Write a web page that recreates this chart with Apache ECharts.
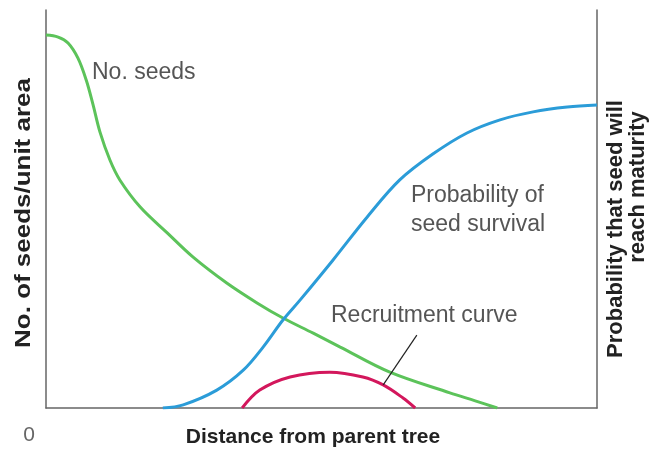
<!DOCTYPE html>
<html>
<head>
<meta charset="utf-8">
<script src="https://cdn.jsdelivr.net/npm/echarts@6/dist/echarts.min.js"></script>
<style>
  html, body { margin: 0; padding: 0; background: #fff; }
  #chart { width: 655px; height: 449px; }
</style>
</head>
<body>
<div id="chart"></div>
<script>
// distance (0-100) vs relative level (0-100)
const seedsCurve = [
  [0, 93.7], [2.2, 93.2], [4.0, 91.7], [5.8, 87.9], [7.3, 82.4], [8.5, 76.4],
  [9.8, 69.3], [11.6, 62.3], [13.4, 57.3], [17.1, 50.5], [22.0, 44.0],
  [26.7, 37.9], [32.8, 31.4], [38.3, 26.4], [43.0, 22.6], [48.5, 18.8],
  [53.4, 15.3], [62.4, 9.0], [73.3, 3.8], [77.9, 1.8], [81.9, 0]
]
const survivalCurve = [
  [21.2, 0], [24.9, 0.8], [31.0, 4.5], [35.8, 9.5], [39.4, 15.3], [43.0, 22.1],
  [46.1, 27.1], [52.1, 37.2], [58.3, 48.0], [64.2, 57.3], [70.2, 63.8],
  [76.4, 69.1], [82.4, 72.4], [88.4, 74.4], [94.6, 75.6], [100, 76.1]
]
const recruitCurve = [
  [35.6, 0], [38.8, 4.5], [44.3, 7.8], [51.5, 9.0], [57.5, 7.8],
  [61.2, 5.8], [64.8, 2.5], [67.0, 0]
]
const pointerLine = [[61.2, 5.8], [67.3, 18.3]]

const chart = echarts.init(document.getElementById('chart'))

const labelFont = 'Liberation Sans, Arial, Helvetica, sans-serif'
const axisColor = '#666'

const hiddenAxis = {
  type: 'value',
  min: 0,
  max: 100,
  axisLine: { show: true, lineStyle: { color: axisColor, width: 1.5 } },
  axisTick: { show: false },
  axisLabel: { show: false },
  splitLine: { show: false }
}

const curve = (name, data, color, yAxisIndex) => ({
  name: name,
  type: 'line',
  yAxisIndex: yAxisIndex || 0,
  data: data,
  smooth: 0.35,
  showSymbol: false,
  lineStyle: { color: color, width: 3 }
})

const option = {
  animation: false,
  grid: { left: 46, right: 58, top: 10, bottom: 41 },
  xAxis: hiddenAxis,
  yAxis: [
    hiddenAxis,
    Object.assign({}, hiddenAxis, { position: 'right' })
  ],
  series: [
    curve('No. seeds', seedsCurve, '#5cc35a'),
    curve('Probability of seed survival', survivalCurve, '#2b9cd8', 1),
    curve('Recruitment curve', recruitCurve, '#d3175c'),
    {
      name: 'pointer',
      type: 'line',
      data: pointerLine,
      showSymbol: false,
      lineStyle: { color: '#222', width: 1.2 }
    }
  ],
  graphic: [
    { type: 'text', x: 92, y: 73, style: { text: 'No. seeds', font: '23px ' + labelFont, fill: '#555', verticalAlign: 'middle' } },
    { type: 'text', x: 411, y: 196, style: { text: 'Probability of', font: '23px ' + labelFont, fill: '#555', verticalAlign: 'middle' } },
    { type: 'text', x: 411, y: 225, style: { text: 'seed survival', font: '23px ' + labelFont, fill: '#555', verticalAlign: 'middle' } },
    { type: 'text', x: 331, y: 316, style: { text: 'Recruitment curve', font: '23px ' + labelFont, fill: '#555', verticalAlign: 'middle' } },
    { type: 'text', x: 29, y: 435, style: { text: '0', font: '21px ' + labelFont, fill: '#666', align: 'center', verticalAlign: 'middle' } },
    { type: 'text', x: 313, y: 437, style: { text: 'Distance from parent tree', font: 'bold 21px ' + labelFont, fill: '#222', align: 'center', verticalAlign: 'middle' } },
    { type: 'text', x: 24, y: 213, rotation: Math.PI / 2, scaleX: 1.18, style: { text: 'No. of seeds/unit area', font: 'bold 22px ' + labelFont, fill: '#222', align: 'center', verticalAlign: 'middle' } },
    { type: 'text', x: 616, y: 229, rotation: Math.PI / 2, style: { text: 'Probability that seed will', font: 'bold 22px ' + labelFont, fill: '#222', align: 'center', verticalAlign: 'middle' } },
    { type: 'text', x: 638, y: 187, rotation: Math.PI / 2, style: { text: 'reach maturity', font: 'bold 22px ' + labelFont, fill: '#222', align: 'center', verticalAlign: 'middle' } }
  ]
}

chart.setOption(option)
</script>
</body>
</html>
